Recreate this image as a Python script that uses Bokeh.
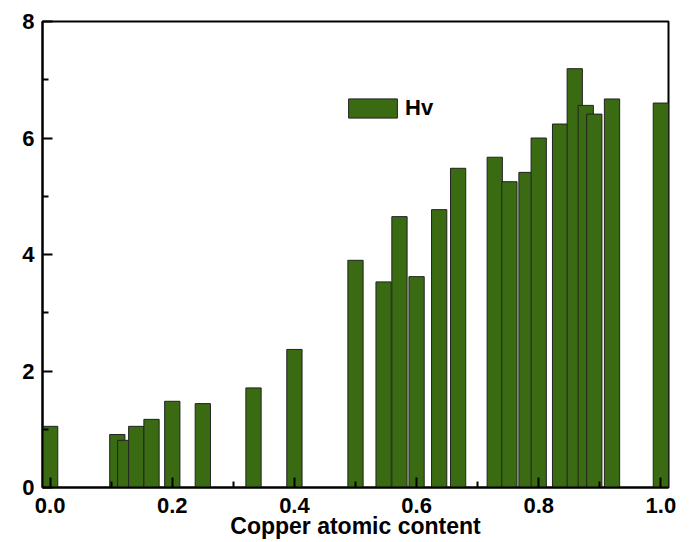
from bokeh.plotting import figure
from bokeh.models import Range1d, FixedTicker, Legend, LegendItem, ColumnDataSource
from bokeh.embed import file_html
from bokeh.resources import INLINE

# Data
cu_content = [0.0, 0.11, 0.123, 0.141, 0.166, 0.2, 0.25, 0.333, 0.4, 0.5, 0.546, 0.572,
              0.6, 0.637, 0.668, 0.728, 0.752, 0.78, 0.8, 0.835, 0.859, 0.877, 0.891,
              0.92, 1.0]
hv = [1.05, 0.91, 0.81, 1.05, 1.17, 1.48, 1.44, 1.71, 2.37, 3.90, 3.53, 4.65,
      3.62, 4.77, 5.48, 5.67, 5.25, 5.41, 6.00, 6.24, 7.19, 6.56, 6.41,
      6.67, 6.60]
x_ticks = [0.0, 0.2, 0.4, 0.6, 0.8, 1.0]
x_minor = [0.1, 0.3, 0.5, 0.7, 0.9]
y_ticks = [0, 2, 4, 6, 8]
y_minor = [1, 3, 5, 7]

FONT = "Liberation Sans"
BAR_W = 0.025

src = ColumnDataSource(dict(x=cu_content, top=hv))

p = figure(width=692, height=542, output_backend="svg", toolbar_location=None,
           x_range=Range1d(-BAR_W / 2, 1 + BAR_W / 2), y_range=Range1d(0, 8),
           min_border_left=42, min_border_top=21, min_border_right=24, min_border_bottom=55)

p.grid.visible = False
p.outline_line_color = "black"
p.outline_line_width = 2
p.background_fill_color = "white"
p.border_fill_color = "white"

r = p.vbar(x="x", top="top", width=BAR_W, bottom=0, source=src,
           fill_color="#3a6b12", line_color="#222222", line_width=1)

for ax in (p.xaxis[0], p.yaxis[0]):
    ax.axis_line_width = 2
    ax.axis_line_color = "black"
    ax.major_tick_line_width = 2
    ax.minor_tick_line_width = 2
    ax.major_tick_in = 10
    ax.major_tick_out = 0
    ax.minor_tick_in = 6
    ax.minor_tick_out = 0
    ax.major_label_text_font = FONT
    ax.major_label_text_font_style = "bold"
    ax.major_label_text_font_size = "22px"
    ax.major_label_text_color = "black"
    ax.axis_label_text_font = FONT
    ax.axis_label_text_font_style = "bold"
    ax.axis_label_text_font_size = "23px"
    ax.axis_label_text_color = "black"

p.xaxis.ticker = FixedTicker(ticks=x_ticks, minor_ticks=x_minor)
p.yaxis.ticker = FixedTicker(ticks=y_ticks, minor_ticks=y_minor)
p.xaxis.major_label_overrides = {t: f"{t:.1f}" for t in x_ticks}
p.xaxis.major_label_standoff = 10
p.yaxis.major_label_standoff = 8
p.xaxis.axis_label = "Copper atomic content"
p.xaxis.axis_label_standoff = -3

legend = Legend(items=[LegendItem(label="Hv", renderers=[r])],
                location=(300, 366), border_line_color=None,
                background_fill_alpha=0, padding=0, margin=0,
                glyph_width=61, glyph_height=24, label_height=24, label_standoff=2,
                label_text_font=FONT, label_text_font_style="bold",
                label_text_font_size="22px", label_text_color="black")
p.add_layout(legend, "center")

open("out.html", "w").write(file_html(p, INLINE))
